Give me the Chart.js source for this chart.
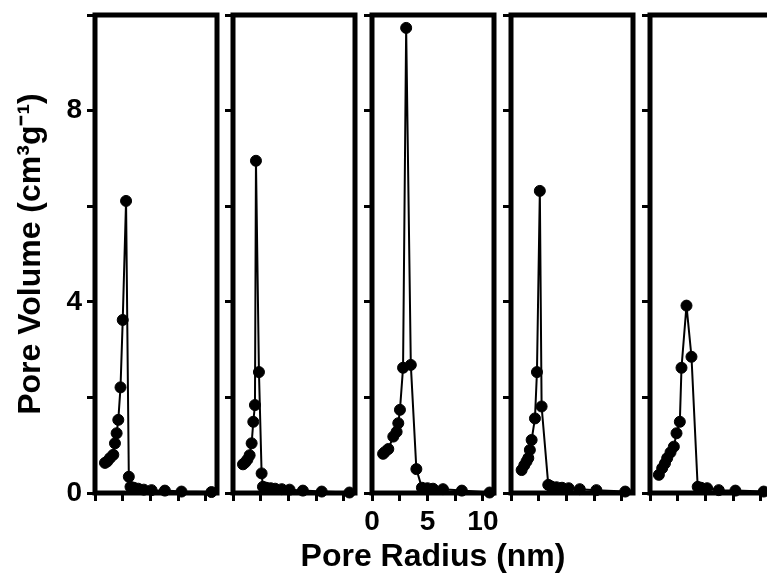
<!DOCTYPE html>
<html>
<head>
<meta charset="utf-8">
<script src="https://cdn.jsdelivr.net/npm/chart.js@4"></script>
<style>
  html, body { margin: 0; padding: 0; background: #fff; overflow: hidden; width: 767px; height: 576px; }
  canvas { position: absolute; top: 0; }
</style>
</head>
<body>
<script>
// === DATA (pore radius in nm, pore volume in cm3/g) ===
const radius1 = [0.9, 1.1, 1.35, 1.65, 1.8, 1.95, 2.1, 2.3, 2.5, 2.8, 3.05, 3.2, 3.5, 3.9, 4.4, 5.1, 6.3, 7.8, 10.5];
const volume1 = [0.63, 0.66, 0.73, 0.80, 1.04, 1.25, 1.53, 2.21, 3.62, 6.11, 0.34, 0.13, 0.11, 0.09, 0.07, 0.06, 0.05, 0.03, 0.02];

const radius2 = [0.9, 1.1, 1.3, 1.5, 1.68, 1.83, 1.98, 2.07, 2.34, 2.58, 2.7, 3.0, 3.4, 3.8, 4.4, 5.1, 6.3, 8.0, 10.5];
const volume2 = [0.60, 0.64, 0.70, 0.79, 1.04, 1.49, 1.84, 6.95, 2.53, 0.41, 0.13, 0.11, 0.10, 0.09, 0.08, 0.07, 0.05, 0.03, 0.01];

const radius3 = [1.0, 1.17, 1.47, 1.92, 2.22, 2.37, 2.52, 2.8, 3.08, 3.5, 4.0, 4.5, 5.0, 5.5, 6.4, 8.1, 10.6];
const volume3 = [0.82, 0.86, 0.92, 1.18, 1.28, 1.46, 1.74, 2.62, 9.73, 2.68, 0.50, 0.11, 0.10, 0.09, 0.08, 0.05, 0.01];

const radius4 = [0.96, 1.2, 1.4, 1.56, 1.7, 1.86, 2.16, 2.34, 2.6, 2.76, 3.36, 3.6, 4.1, 4.6, 5.2, 6.2, 7.7, 10.3];
const volume4 = [0.48, 0.58, 0.66, 0.73, 0.90, 1.11, 1.56, 2.53, 6.32, 1.81, 0.17, 0.14, 0.12, 0.11, 0.10, 0.08, 0.06, 0.03];

const radius5 = [0.8, 1.1, 1.35, 1.55, 1.85, 2.15, 2.39, 2.69, 2.84, 3.29, 3.74, 4.3, 4.6, 5.15, 6.2, 7.7, 10.25];
const volume5 = [0.38, 0.52, 0.62, 0.73, 0.85, 0.97, 1.25, 1.49, 2.62, 3.92, 2.85, 0.13, 0.11, 0.10, 0.06, 0.05, 0.03];

const yTickLabels = [0, 4, 8];
const xTickLabels = [0, 5, 10];
const yTitle = "Pore Volume (cm³g⁻¹)";
const xTitle = "Pore Radius (nm)";

// === LAYOUT ===
const panelLeft = [95, 233, 372, 511, 650];
const panelWidth = 122;

Chart.defaults.font.family = "'Liberation Sans', Arial, sans-serif";
Chart.defaults.font.weight = "bold";
Chart.defaults.color = "#000";

// box around each panel
const frame = {
  id: "frame",
  beforeDatasetsDraw(chart) {
    const { ctx, chartArea: a } = chart;
    ctx.save();
    ctx.lineWidth = 5;
    ctx.strokeStyle = "#000";
    ctx.strokeRect(a.left, a.top, a.right - a.left, a.bottom - a.top);
    ctx.restore();
  }
};

function noPad(s) {
  s.paddingTop = 0; s.paddingBottom = 0; s.paddingLeft = 0; s.paddingRight = 0;
}

function makePanel(i, xs, ys) {
  const first = i === 0;
  const middle = i === 2;
  const yW = first ? 95 : 150;
  const padR = yW; // symmetric so the bottom title centres on the panel
  const titleH = 38.4; // 32px * 1.2
  const c = document.createElement("canvas");
  c.width = yW + panelWidth + padR;
  c.height = 576;
  c.style.left = (panelLeft[i] - yW) + "px";
  document.body.appendChild(c);

  new Chart(c, {
    type: "scatter",
    data: {
      datasets: [{
        data: xs.map((x, k) => ({ x, y: ys[k] })),
        showLine: true,
        borderColor: "#000",
        borderWidth: 2,
        pointRadius: 5.5,
        pointBorderWidth: 1,
        pointBorderColor: "#000",
        pointBackgroundColor: "#000",
        clip: false
      }]
    },
    options: {
      responsive: false,
      animation: false,
      layout: { padding: { top: 15, right: 0, left: 0, bottom: 0 } },
      plugins: {
        legend: { display: false },
        tooltip: { enabled: false },
        title: {
          display: middle, position: "bottom", text: xTitle,
          font: { size: 32, weight: "bold" }, color: "#000", padding: 0
        }
      },
      scales: {
        x: {
          type: "linear", min: 0, max: 11,
          border: { display: false },
          grid: { drawOnChartArea: false, tickLength: 8, lineWidth: 3, color: "#000" },
          ticks: {
            display: middle, stepSize: 2.5, includeBounds: false, autoSkip: false,
            maxRotation: 0, padding: 4, font: { size: 28 },
            callback: v => xTickLabels.includes(v) ? v : ""
          },
          afterFit: s => { noPad(s); s.height = middle ? 83 - titleH : 83; }
        },
        y: {
          min: 0, max: 10,
          border: { display: false },
          grid: { drawOnChartArea: false, tickLength: 8, lineWidth: 3, color: "#000" },
          ticks: {
            display: first, stepSize: 2, includeBounds: false, autoSkip: false,
            padding: 5, font: { size: 28 },
            callback: v => yTickLabels.includes(v) ? v : ""
          },
          title: { display: first, text: yTitle, font: { size: 32 }, padding: { top: 12, bottom: 0 } },
          afterFit: s => { noPad(s); s.width = yW; }
        },
        yRight: {
          position: "right", min: 0, max: 10,
          border: { display: false },
          grid: { display: false },
          ticks: { display: false },
          afterFit: s => { noPad(s); s.width = padR; }
        }
      }
    },
    plugins: [frame]
  });
}

makePanel(0, radius1, volume1);
makePanel(1, radius2, volume2);
makePanel(2, radius3, volume3);
makePanel(3, radius4, volume4);
makePanel(4, radius5, volume5);
</script>
</body>
</html>
